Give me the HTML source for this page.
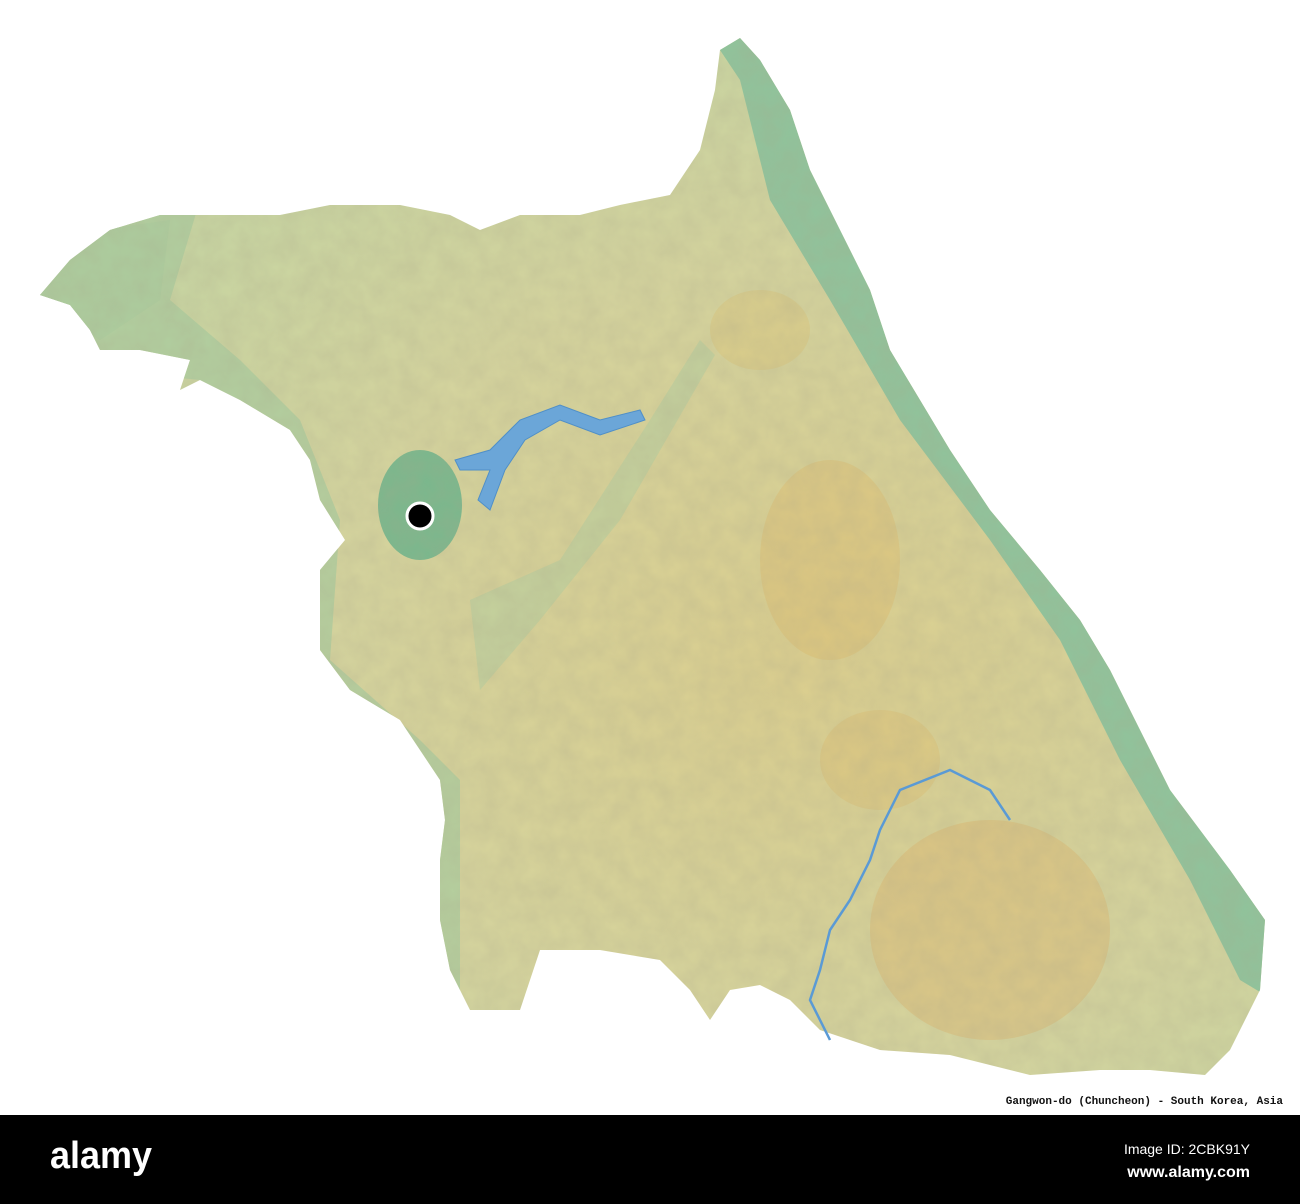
<!DOCTYPE html>
<html><head><meta charset="utf-8"><style>
html,body{margin:0;padding:0;background:#fff;width:1300px;height:1204px;overflow:hidden}
</style></head><body>
<svg width="1300" height="1204" viewBox="0 0 1300 1204">
<defs>
<radialGradient id="mtn" cx="0.62" cy="0.6" r="0.6">
<stop offset="0" stop-color="#dccf8e"/><stop offset="0.6" stop-color="#d6d59e"/><stop offset="1" stop-color="#c8d6a2"/>
</radialGradient>
<filter id="tex"><feTurbulence type="fractalNoise" baseFrequency="0.05" numOctaves="3" seed="3"/><feColorMatrix type="matrix" values="0 0 0 0 0.4  0 0 0 0 0.38  0 0 0 0 0.25  0 0 0 0.3 0"/><feComposite in2="SourceGraphic" operator="in"/></filter>
<clipPath id="clip"><path d="M40,295 L70,260 L110,230 L160,215 L220,215 L280,215 L330,205 L400,205 L450,215 L480,230 L520,215 L580,215 L620,205 L670,195 L700,150 L715,90 L720,50 L740,38 L760,60 L790,110 L810,170 L840,230 L870,290 L890,350 L920,400 L950,450 L990,510 L1040,570 L1080,620 L1110,670 L1140,730 L1170,790 L1200,830 L1230,870 L1265,920 L1260,990 L1230,1050 L1205,1075 L1150,1070 L1100,1070 L1030,1075 L950,1055 L880,1050 L820,1030 L790,1000 L760,985 L730,990 L710,1020 L690,990 L660,960 L600,950 L540,950 L530,980 L520,1010 L470,1010 L450,970 L440,920 L440,860 L445,820 L440,780 L400,720 L350,690 L320,650 L320,600 L320,570 L345,540 L320,500 L310,460 L290,430 L240,400 L200,380 L180,390 L190,360 L140,350 L100,350 L90,330 L70,305 Z"/></clipPath>
</defs>
<g clip-path="url(#clip)">
<rect x="0" y="0" width="1300" height="1110" fill="url(#mtn)"/>
<path d="M700,20 L800,20 L850,220 L900,340 L960,430 L1040,540 L1100,630 L1160,740 L1290,900 L1290,1010 L1240,980 L1190,880 L1120,760 L1060,640 L990,540 L900,420 L830,300 L770,200 L740,80 Z" fill="#8fc49c"/>
<path d="M0,200 L200,200 L170,300 L240,360 L300,420 L340,520 L330,660 L420,740 L460,780 L460,1050 L420,1050 L400,800 L300,700 L290,430 L200,380 L0,360 Z" fill="#a6cc9e" opacity="0.7"/>
<path d="M30,240 L170,220 L160,300 L100,340 L40,300 Z" fill="#abcc9e" opacity="0.8"/>
<ellipse cx="420" cy="505" rx="42" ry="55" fill="#79b88d"/>
<path d="M470,600 L560,560 L650,420 L700,340 L715,355 L620,520 L540,620 L480,690 Z" fill="#b0ce9f" opacity="0.5"/>
<ellipse cx="830" cy="560" rx="70" ry="100" fill="#e0b865" opacity="0.35"/>
<ellipse cx="990" cy="930" rx="120" ry="110" fill="#e0b060" opacity="0.35"/>
<ellipse cx="760" cy="330" rx="50" ry="40" fill="#dfbc68" opacity="0.3"/>
<ellipse cx="880" cy="760" rx="60" ry="50" fill="#ddb565" opacity="0.3"/>
<rect x="0" y="0" width="1300" height="1110" fill="#fff" filter="url(#tex)"/>
</g>
<path d="M455,460 L490,450 L520,420 L560,405 L600,420 L640,410 L645,420 L600,435 L560,420 L525,440 L505,470 L490,510 L478,500 L490,470 L460,470 Z" fill="#6ba6d8" stroke="#4f8fc8" stroke-width="1"/>
<path d="M1010,820 L990,790 L950,770 L900,790 L880,830 L870,860 L850,900 L830,930 L820,970 L810,1000 L830,1040" fill="none" stroke="#5a9ad5" stroke-width="2.5"/>
<circle cx="420" cy="516" r="13" fill="#000" stroke="#fff" stroke-width="3"/>
<text x="1283" y="1104" text-anchor="end" font-family="'Liberation Mono',monospace" font-size="11" font-weight="bold" fill="#111">Gangwon-do (Chuncheon) - South Korea, Asia</text>
<rect x="0" y="1115" width="1300" height="89" fill="#000"/>
<text x="50" y="1168" font-family="'Liberation Sans',sans-serif" font-size="38" font-weight="bold" fill="#fff" textLength="102" lengthAdjust="spacingAndGlyphs">alamy</text>
<text x="1250" y="1154" text-anchor="end" font-family="'Liberation Sans',sans-serif" font-size="14" fill="#fff">Image ID: 2CBK91Y</text>
<text x="1250" y="1177" text-anchor="end" font-family="'Liberation Sans',sans-serif" font-size="16" font-weight="bold" fill="#fff">www.alamy.com</text>
</svg>
</body></html>
